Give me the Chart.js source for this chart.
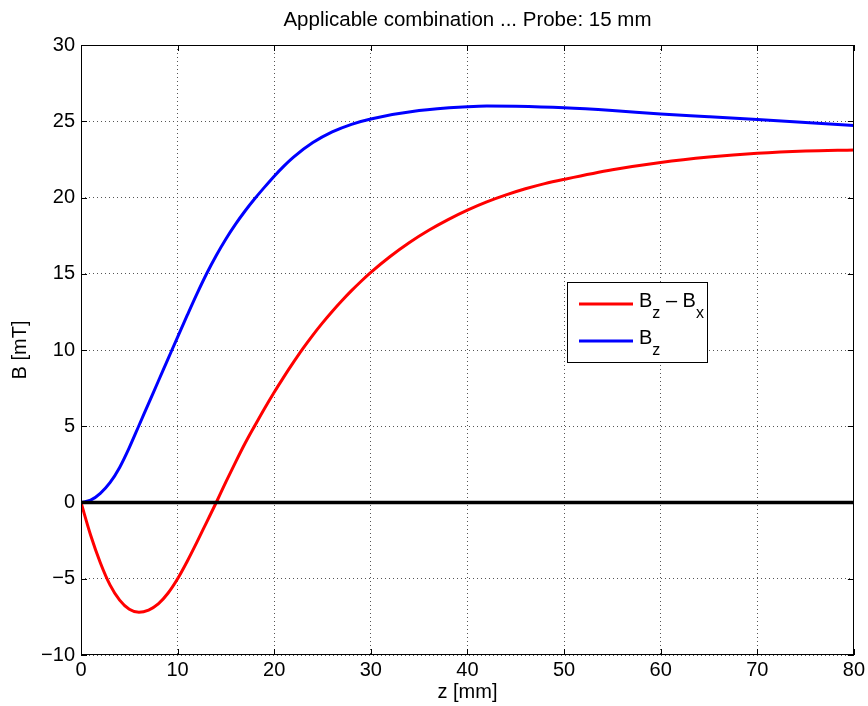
<!DOCTYPE html>
<html>
<head>
<meta charset="utf-8">
<script src="https://cdn.jsdelivr.net/npm/chart.js@4/dist/chart.umd.min.js"></script>
<style>
html, body { margin: 0; padding: 0; background: #fff; }
canvas { display: block; }
</style>
</head>
<body>
<canvas id="c" width="868" height="706"></canvas>
<script>
// Field along the probe axis, z in mm, B in mT
const zDiff = [0,1,2,3,4,5,6,7,8,9,10,11,12,13,14,15,16,17,18,19,20,21,22,23,24,25,26,27,28,29,30,32,34,36,38,40,42,44,46,48,50,55,60,65,70,75,80];
const bzMinusBx = [0,-2.15,-3.95,-5.4,-6.4,-7.0,-7.2,-7.05,-6.65,-5.95,-5.0,-3.85,-2.6,-1.3,0,1.35,2.65,3.9,5.05,6.17,7.23,8.24,9.2,10.12,10.98,11.78,12.53,13.23,13.89,14.51,15.09,16.13,17.05,17.85,18.55,19.17,19.71,20.17,20.57,20.91,21.19,21.82,22.3,22.65,22.9,23.05,23.12];

const zBz = [0,1,2,3,4,5,6,7,8,9,10,11,12,13,14,15,16,17,18,19,20,21,22,24,26,28,30,35,40,42,45,50,55,60,65,70,75,80];
const bz = [0,0.15,0.6,1.3,2.3,3.6,5.05,6.5,7.95,9.4,10.85,12.28,13.68,15.0,16.2,17.28,18.25,19.13,19.93,20.68,21.4,22.06,22.65,23.6,24.3,24.8,25.15,25.7,25.95,26.0,25.98,25.88,25.7,25.47,25.3,25.12,24.92,24.72];

const zeroLineZ = [0, 80];
const zeroLineB = [0, 0];

const xTicks = [0,10,20,30,40,50,60,70,80];
const yTicks = [-10,-5,0,5,10,15,20,25,30];

const titleText = 'Applicable combination ... Probe: 15 mm';
const xLabel = 'z [mm]';
const yLabel = 'B [mT]';

const FONT = '"Liberation Sans", Arial, Helvetica, sans-serif';
const toPoints = (xs, ys) => xs.map((x, i) => ({ x: x, y: ys[i] }));
const fmt = v => String(v).replace('-', '\u2212');

// Boxed axes with inward tick marks on all four sides
const axesBox = {
  id: 'axesBox',
  afterDraw(chart) {
    const { ctx, chartArea: a, scales } = chart;
    ctx.save();
    ctx.strokeStyle = '#000';
    ctx.lineWidth = 1;
    ctx.strokeRect(Math.round(a.left) + 0.5, Math.round(a.top) + 0.5,
      Math.round(a.right - a.left) - 1, Math.round(a.bottom - a.top) - 1);
    const len = 6;
    ctx.beginPath();
    xTicks.forEach(v => {
      const px = Math.round(scales.x.getPixelForValue(v)) + 0.5;
      ctx.moveTo(px, a.bottom); ctx.lineTo(px, a.bottom - len);
      ctx.moveTo(px, a.top); ctx.lineTo(px, a.top + len);
    });
    yTicks.forEach(v => {
      const py = Math.round(scales.y.getPixelForValue(v)) + 0.5;
      ctx.moveTo(a.left, py); ctx.lineTo(a.left + len, py);
      ctx.moveTo(a.right, py); ctx.lineTo(a.right - len, py);
    });
    ctx.stroke();

    // title centred over the plot area
    ctx.fillStyle = '#000';
    ctx.font = '20.5px ' + FONT;
    ctx.textAlign = 'center';
    ctx.textBaseline = 'middle';
    ctx.fillText(titleText, (a.left + a.right) / 2, 20);
    ctx.restore();
  }
};

// Legend with subscripted entries
const subLegend = {
  id: 'subLegend',
  afterDraw(chart) {
    const { ctx } = chart;
    const bx = 567.5, by = 282.5, bw = 140, bh = 80;
    ctx.save();
    ctx.fillStyle = '#fff';
    ctx.fillRect(bx, by, bw, bh);
    ctx.strokeStyle = '#000';
    ctx.lineWidth = 1;
    ctx.strokeRect(bx, by, bw, bh);

    const entries = [
      { color: '#ff0000', y: 304, parts: [['B', 0], ['z', 1], [' \u2013 B', 0], ['x', 1]] },
      { color: '#0000ff', y: 341, parts: [['B', 0], ['z', 1]] }
    ];
    entries.forEach(e => {
      ctx.strokeStyle = e.color;
      ctx.lineWidth = 3;
      ctx.beginPath();
      ctx.moveTo(579, e.y);
      ctx.lineTo(633, e.y);
      ctx.stroke();
      let x = 639;
      ctx.fillStyle = '#000';
      ctx.textAlign = 'left';
      ctx.textBaseline = 'alphabetic';
      e.parts.forEach(([t, sub]) => {
        ctx.font = (sub ? '16px ' : '20px ') + FONT;
        const base = e.y + 3 + (sub ? 11 : 0);
        ctx.fillText(t, x, base);
        x += ctx.measureText(t).width;
      });
    });
    ctx.restore();
  }
};

const tickFont = { family: FONT, size: 20 };

new Chart(document.getElementById('c'), {
  type: 'line',
  data: {
    datasets: [
      {
        label: 'zero',
        data: toPoints(zeroLineZ, zeroLineB),
        borderColor: '#000',
        borderWidth: 3.5,
        pointRadius: 0,
        order: 0
      },
      {
        label: 'B_z - B_x',
        data: toPoints(zDiff, bzMinusBx),
        borderColor: '#ff0000',
        borderWidth: 3,
        pointRadius: 0,
        cubicInterpolationMode: 'monotone',
        order: 2
      },
      {
        label: 'B_z',
        data: toPoints(zBz, bz),
        borderColor: '#0000ff',
        borderWidth: 3,
        pointRadius: 0,
        cubicInterpolationMode: 'monotone',
        order: 1
      }
    ]
  },
  options: {
    responsive: false,
    animation: false,
    devicePixelRatio: 1,
    layout: { padding: { left: 0, right: 13, top: 45, bottom: 0 } },
    plugins: {
      legend: { display: false },
      title: { display: false },
      tooltip: { enabled: false }
    },
    scales: {
      x: {
        type: 'linear',
        min: 0, max: 80,
        afterFit: s => { s.height = 51; },
        afterBuildTicks: s => { s.ticks = xTicks.map(v => ({ value: v })); },
        grid: { color: '#555', lineWidth: 1, drawTicks: false },
        border: { display: false, dash: [1, 3] },
        ticks: { font: tickFont, color: '#000', padding: 3, maxRotation: 0, autoSkip: false, callback: fmt },
        title: { display: true, text: xLabel, font: tickFont, color: '#000', padding: { top: 0, bottom: 2 } }
      },
      y: {
        type: 'linear',
        min: -10, max: 30,
        afterFit: s => { s.width = 81; },
        afterBuildTicks: s => { s.ticks = yTicks.map(v => ({ value: v })); },
        grid: { color: '#555', lineWidth: 1, drawTicks: false },
        border: { display: false, dash: [1, 3] },
        ticks: { font: tickFont, color: '#000', padding: 6, autoSkip: false, callback: fmt },
        title: { display: true, text: yLabel, font: tickFont, color: '#000', padding: { top: 8, bottom: 0 } }
      }
    }
  },
  plugins: [axesBox, subLegend]
});
</script>
</body>
</html>
